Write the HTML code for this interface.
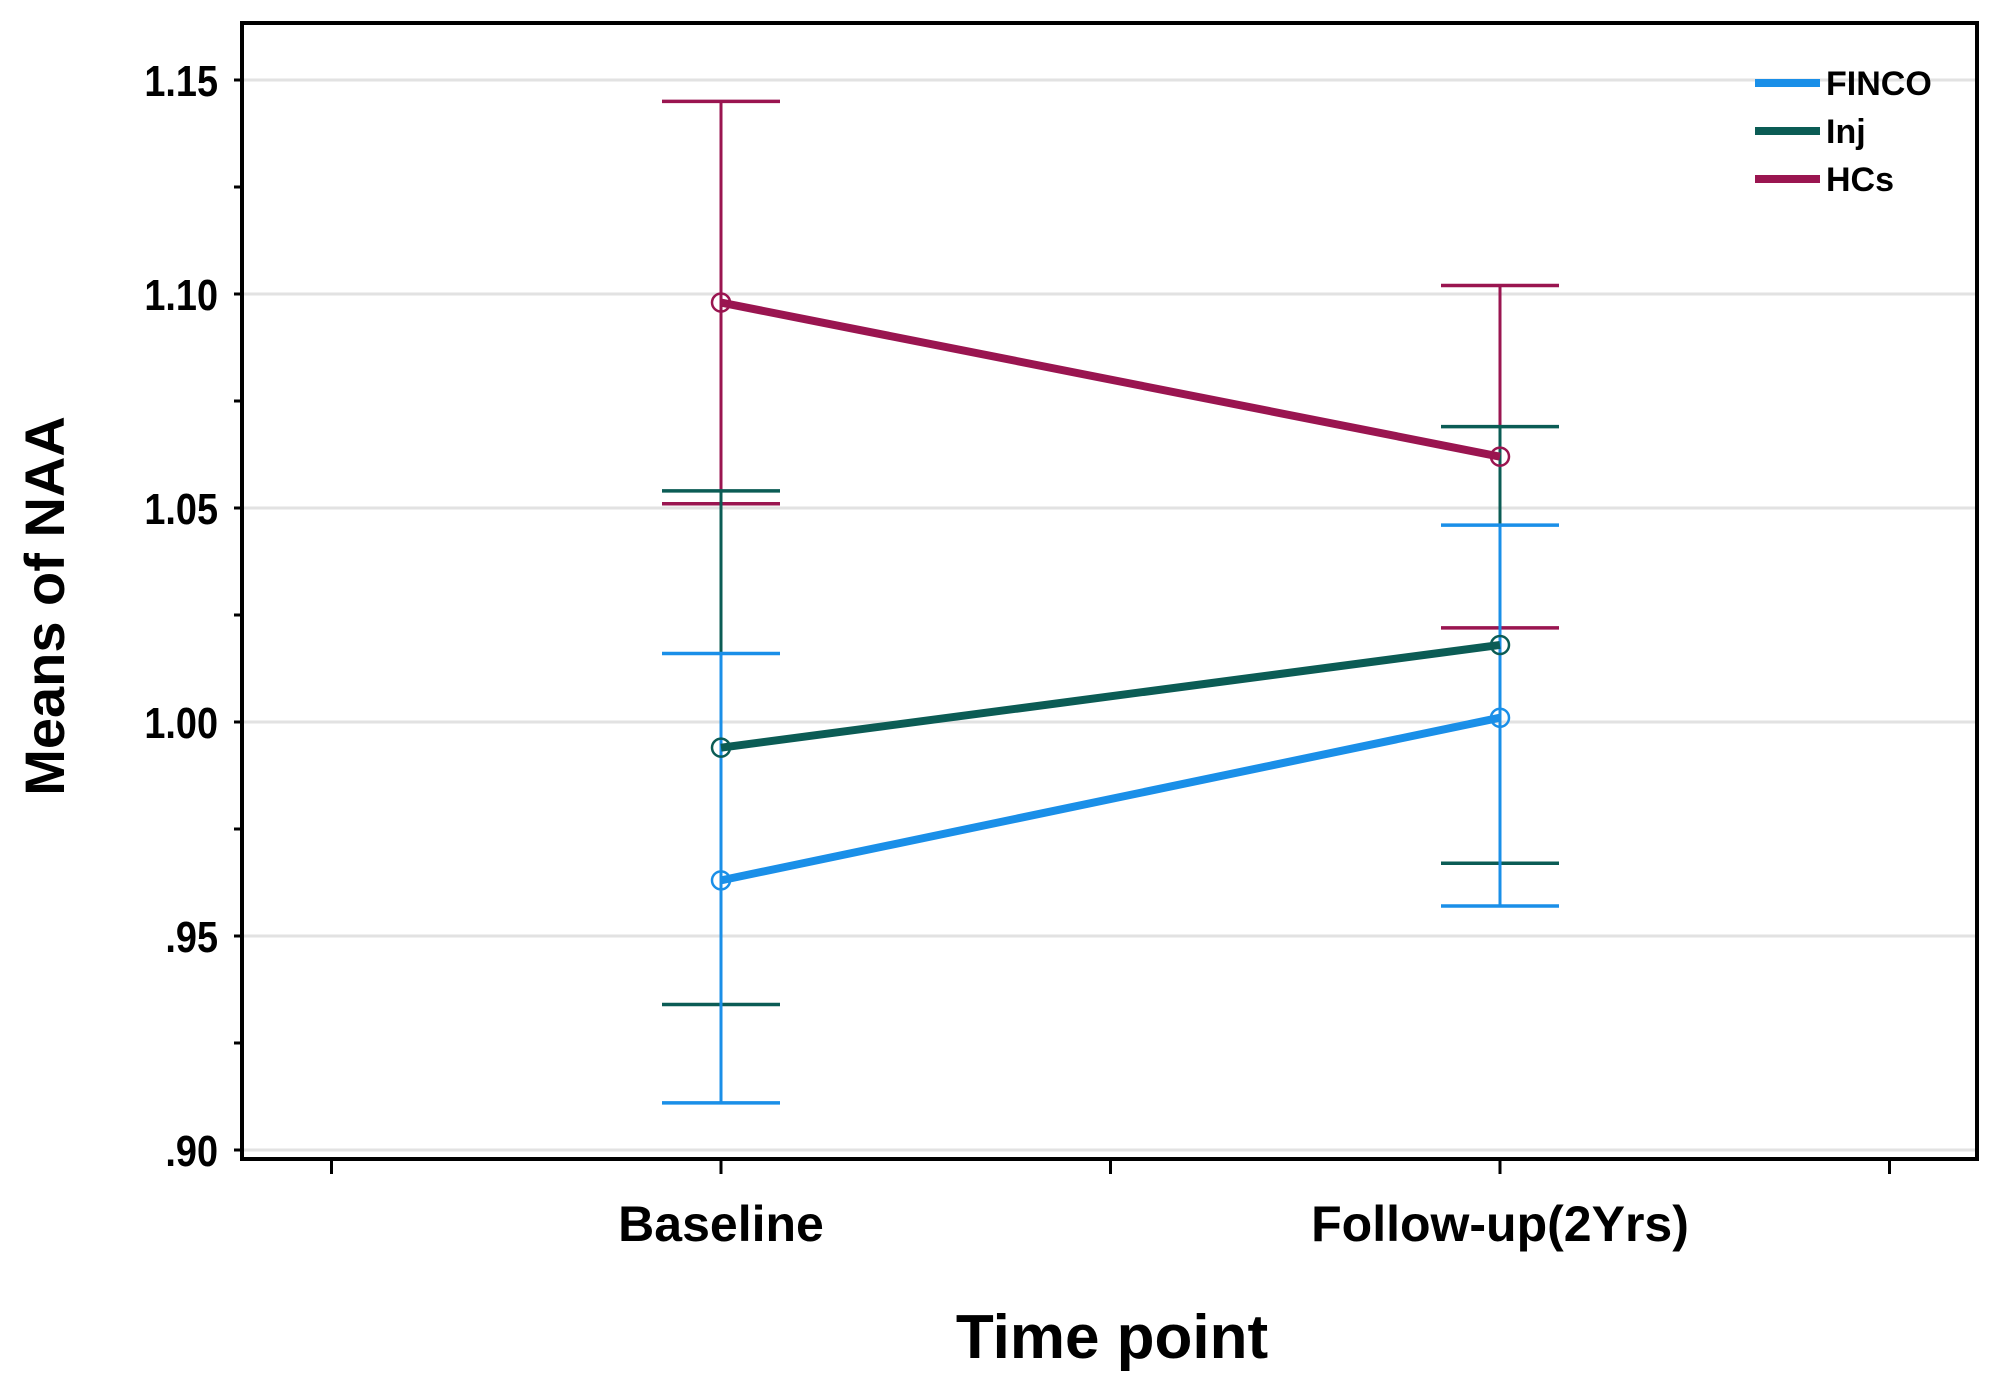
<!DOCTYPE html>
<html><head><meta charset="utf-8"><style>
body{margin:0;background:#fff;}
svg{display:block;font-family:"Liberation Sans",Arial,sans-serif;}
</style></head><body>
<svg id="chart" width="1997" height="1393"></svg>
<script>
const categories=["Baseline","Follow-up(2Yrs)"];
const seriesNames=["FINCO","Inj","HCs"];
const seriesColors=["#1a8fe8","#0b5c55","#9a1550"];
const fincoMean=[0.963,1.001];
const fincoLow=[0.911,0.957];
const fincoHigh=[1.016,1.046];
const injMean=[0.994,1.018];
const injLow=[0.934,0.967];
const injHigh=[1.054,1.069];
const hcsMean=[1.098,1.062];
const hcsLow=[1.051,1.022];
const hcsHigh=[1.145,1.102];
const yTicks=[0.90,0.95,1.00,1.05,1.10,1.15];
const yTickLabels=[".90",".95","1.00","1.05","1.10","1.15"];

const NS="http://www.w3.org/2000/svg";
const svg=document.getElementById('chart');
const L=242,R=1977,T=23,B=1159;
const y=v=>1150-(v-0.90)/0.05*214;
const x=i=>721+i*779;
function mk(t,a,p){const e=document.createElementNS(NS,t);for(const k in a)e.setAttribute(k,a[k]);(p||svg).appendChild(e);return e;}

yTicks.forEach((v,i)=>{
  const g=mk('line',{x1:L,x2:R,y1:y(v),y2:y(v),stroke:'#e2e2e2','stroke-width':3});
  
  
  const tk=mk('line',{x1:L-8,x2:L,y1:y(v),y2:y(v),stroke:'#000','stroke-width':3});
  
  
  const t=mk('text',{x:L-24,y:y(v)+16,'text-anchor':'end','font-size':44,'font-weight':'bold',transform:'translate('+(L-24)+',0) scale(0.86,1) translate('+(-(L-24))+',0)'});
  t.textContent=yTickLabels[i];
  
  
});
for(let i=0;i<yTicks.length-1;i++){
  const m=mk('line',{x1:L-8,x2:L,y1:y(yTicks[i]+0.025),y2:y(yTicks[i]+0.025),stroke:'#000','stroke-width':3});
  
  
}
[-0.5,0,0.5,1,1.5].forEach(p=>{
  const xx=721+p*779;
  const tk=mk('line',{x1:xx,x2:xx,y1:B,y2:B+15,stroke:'#000','stroke-width':3});
  
  
});
categories.forEach((c,i)=>{
  const t=mk('text',{x:x(i),y:1241,'text-anchor':'middle','font-size':50,'font-weight':'bold'});
  t.textContent=c;
  
  
});

const means=[fincoMean,injMean,hcsMean],lows=[fincoLow,injLow,hcsLow],highs=[fincoHigh,injHigh,hcsHigh];
[2,1,0].forEach(s=>{
  categories.forEach((c,i)=>{
    const col=seriesColors[s];
    const v=mk('line',{x1:x(i),x2:x(i),y1:y(lows[s][i]),y2:y(highs[s][i]),stroke:col,'stroke-width':3});
    
    
    [lows[s][i],highs[s][i]].forEach(w=>{
      const cap=mk('line',{x1:x(i)-59,x2:x(i)+59,y1:y(w),y2:y(w),stroke:col,'stroke-width':3.5});
      
      
    });
  });
});
[2,1,0].forEach(s=>{
  const ln=mk('line',{x1:x(0),y1:y(means[s][0]),x2:x(1),y2:y(means[s][1]),stroke:seriesColors[s],'stroke-width':8});
  
  
  means[s].forEach((v,i)=>{
    const c=mk('circle',{cx:x(i),cy:y(v),r:9,fill:'none',stroke:seriesColors[s],'stroke-width':2.5});
    
    
  });
});
const fr=mk('rect',{x:L,y:T,width:R-L,height:B-T,fill:'none',stroke:'#000','stroke-width':4});


seriesNames.forEach((n,i)=>{
  const yy=83+i*48;
  const l=mk('line',{x1:1755,x2:1820,y1:yy,y2:yy,stroke:seriesColors[i],'stroke-width':8});
  
  
  const t=mk('text',{x:1826,y:yy+12,'font-size':34,'font-weight':'bold'});
  t.textContent=n;
  
  
});
const yt=mk('text',{x:0,y:0,transform:'translate(64,606) rotate(-90)','text-anchor':'middle','font-size':56,'font-weight':'bold'});
yt.textContent='Means of NAA';


const xt=mk('text',{x:1112,y:1358,'text-anchor':'middle','font-size':62,'font-weight':'bold'});
xt.textContent='Time point';


</script>
</body></html>
